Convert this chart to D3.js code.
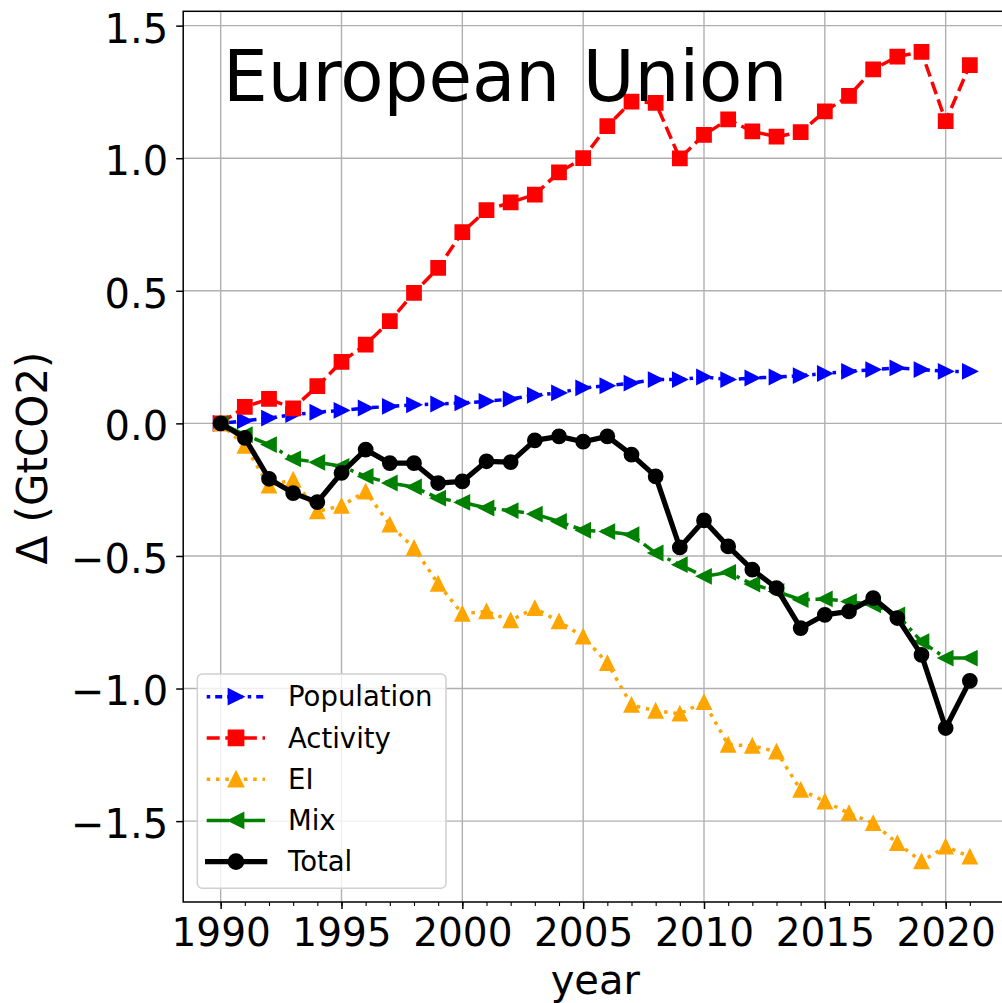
<!DOCTYPE html>
<html><head><meta charset="utf-8">
<script src="https://cdn.jsdelivr.net/npm/d3@7"></script>
<style>body{margin:0;background:#fff}svg{display:block}text{font-family:"DejaVu Sans",sans-serif}</style>
</head><body>
<svg id="chart" width="1002" height="1003"></svg>
<script>
// ---- data ----
const years = [1990,1991,1992,1993,1994,1995,1996,1997,1998,1999,2000,2001,2002,2003,2004,2005,
               2006,2007,2008,2009,2010,2011,2012,2013,2014,2015,2016,2017,2018,2019,2020,2021];
const population = [0.000,0.010,0.020,0.033,0.042,0.049,0.058,0.064,0.070,0.073,0.077,0.083,0.092,0.106,0.115,0.134,
                    0.142,0.152,0.165,0.165,0.175,0.165,0.171,0.175,0.180,0.188,0.196,0.203,0.209,0.203,0.196,0.196];
const activity = [0.000,0.062,0.092,0.057,0.140,0.232,0.297,0.386,0.492,0.586,0.721,0.804,0.833,0.863,0.947,1.000,
                  1.121,1.213,1.209,0.999,1.088,1.146,1.101,1.081,1.098,1.177,1.235,1.335,1.383,1.401,1.140,1.351];
const ei = [0.000,-0.085,-0.235,-0.212,-0.332,-0.311,-0.257,-0.382,-0.470,-0.605,-0.718,-0.709,-0.743,-0.697,-0.747,-0.804,
            -0.904,-1.062,-1.084,-1.095,-1.051,-1.212,-1.216,-1.238,-1.382,-1.426,-1.470,-1.508,-1.583,-1.652,-1.596,-1.634];
const mix = [0.000,-0.043,-0.080,-0.134,-0.147,-0.162,-0.200,-0.225,-0.240,-0.282,-0.298,-0.319,-0.329,-0.342,-0.370,-0.403,
             -0.408,-0.420,-0.489,-0.533,-0.577,-0.562,-0.606,-0.634,-0.665,-0.662,-0.672,-0.684,-0.722,-0.823,-0.885,-0.885];
const total = [0.000,-0.055,-0.209,-0.263,-0.297,-0.187,-0.099,-0.150,-0.150,-0.225,-0.219,-0.143,-0.146,-0.064,-0.049,-0.069,
               -0.049,-0.118,-0.200,-0.468,-0.366,-0.464,-0.552,-0.621,-0.772,-0.722,-0.709,-0.659,-0.734,-0.873,-1.149,-0.971];
const seriesNames = ["Population","Activity","EI","Mix","Total"];
const xTickValues = [1990,1995,2000,2005,2010,2015,2020];
const yTickValues = [-1.5,-1.0,-0.5,0.0,0.5,1.0,1.5];
const titleText = "European Union";
const xLabel = "year";
const yLabel = "\u0394 (GtCO2)";

// ---- styles ----
const styles = {
  Population:{color:"#0000ff", dash:"3.5,5,7,5", marker:"right", lw:3.5},
  Activity:  {color:"#ff0000", dash:"13,5.6", marker:"square", lw:3.5},
  EI:        {color:"#ffa500", dash:"3.5,5.8", marker:"up", lw:3.5},
  Mix:       {color:"#008000", dash:"22.4,5.6,3.5,5.6", marker:"left", lw:3.5},
  Total:     {color:"#000000", dash:null, marker:"circle", lw:5.2}
};
const seriesData = {Population:population, Activity:activity, EI:ei, Mix:mix, Total:total};

const svg = d3.select("#chart");
const L = 183.2, R = 1007.3, T = 11.3, B = 902;
const x = d3.scaleLinear().domain([1988.45, 2022.55]).range([L, R]);
const y = d3.scaleLinear().domain([-1.805, 1.554]).range([B, T]);

// grid
const grid = svg.append("g");
grid.selectAll("line.vx").data(xTickValues).join("line")
  .attr("x1", d=>x(d)).attr("x2", d=>x(d)).attr("y1", T).attr("y2", B)
  .attr("stroke", "#b0b0b0").attr("stroke-width", 1.4);
grid.selectAll("line.hy").data(yTickValues).join("line")
  .attr("x1", L).attr("x2", R).attr("y1", d=>y(d)).attr("y2", d=>y(d))
  .attr("stroke", "#b0b0b0").attr("stroke-width", 1.4);

function markerPath(type, s){
  const h = s/2;
  switch(type){
    case "square": return `M${-h},${-h}H${h}V${h}H${-h}Z`;
    case "up": return `M0,${-h}L${h},${h}L${-h},${h}Z`;
    case "right": return `M${h},0L${-h},${-h}L${-h},${h}Z`;
    case "left": return `M${-h},0L${h},${-h}L${h},${h}Z`;
    case "circle": return `M${h},0A${h},${h} 0 1,1 ${-h},0A${h},${h} 0 1,1 ${h},0Z`;
  }
}
const MS = 14;

// lines
const line = d3.line().x((d,i)=>x(years[i])).y(d=>y(d));
const plot = svg.append("g");
seriesNames.forEach(name=>{
  const st = styles[name], vals = seriesData[name];
  const g = plot.append("g");
  g.append("path").attr("d", line(vals)).attr("fill","none")
    .attr("stroke", st.color).attr("stroke-width", st.lw)
    .attr("stroke-dasharray", st.dash).attr("stroke-linejoin","round");
  g.selectAll("path.m").data(vals).join("path").attr("class","m")
    .attr("transform",(d,i)=>`translate(${x(years[i])},${y(d)})`)
    .attr("d", markerPath(st.marker, MS))
    .attr("fill", st.color).attr("stroke", st.color).attr("stroke-width", 1.75);
});

// axes
const xAxis = svg.append("g").attr("transform",`translate(0,${B})`)
  .call(d3.axisBottom(x).tickValues(xTickValues).tickFormat(d3.format("d")).tickSize(7).tickSizeOuter(0));
xAxis.select(".domain").remove();
xAxis.selectAll("text").attr("y", 44).attr("dy", "0").attr("font-size", 39).attr("fill","#000")
  .attr("font-family","DejaVu Sans");
xAxis.selectAll("line").attr("stroke","#000").attr("stroke-width",1.5);

const xMinor = svg.append("g").attr("transform",`translate(0,${B})`)
  .call(d3.axisBottom(x).tickValues(years).tickFormat("").tickSize(4).tickSizeOuter(0));
xMinor.select(".domain").remove();
xMinor.selectAll("line").attr("stroke","#000").attr("stroke-width",1.1);

const fmtY = d => (d<0 ? "\u2212" : "") + Math.abs(d).toFixed(1);
const yAxis = svg.append("g").attr("transform",`translate(${L},0)`)
  .call(d3.axisLeft(y).tickValues(yTickValues).tickFormat(fmtY).tickSize(7).tickPadding(8).tickSizeOuter(0));
yAxis.select(".domain").remove();
yAxis.selectAll("text").attr("dy","0.41em").attr("font-size", 40).attr("fill","#000")
  .attr("font-family","DejaVu Sans");
yAxis.selectAll("line").attr("stroke","#000").attr("stroke-width",1.5);

// spines
svg.append("rect").attr("x",L).attr("y",T).attr("width",R-L).attr("height",B-T)
  .attr("fill","none").attr("stroke","#000").attr("stroke-width",1.5);

// title
svg.append("text").attr("x",223).attr("y",101).attr("font-size",70.8).attr("fill","#000").text(titleText);

// axis labels
svg.append("text").attr("x",(L+R)/2).attr("y",994).attr("text-anchor","middle")
  .attr("font-size",40).attr("fill","#000").text(xLabel);
svg.append("text").attr("transform",`translate(47,458) rotate(-90)`).attr("text-anchor","middle")
  .attr("font-size",42).attr("fill","#000").text(yLabel);

// legend
const lg = svg.append("g");
lg.append("rect").attr("x",197.3).attr("y",674).attr("width",248.7).attr("height",214.3)
  .attr("rx",5).attr("fill","#fff").attr("fill-opacity",0.8)
  .attr("stroke","#d0d0d0").attr("stroke-width",1.5);
const rowY = d3.scalePoint().domain(seriesNames).range([696.7, 861.7]);
seriesNames.forEach(name=>{
  const st = styles[name], yy = rowY(name);
  const x1 = name==="Total" ? 205 : 206.7, x2 = name==="Total" ? 267.3 : 265;
  lg.append("line").attr("x1",x1).attr("x2",x2).attr("y1",yy).attr("y2",yy)
    .attr("stroke",st.color).attr("stroke-width",st.lw).attr("stroke-dasharray",st.dash);
  lg.append("path").attr("transform",`translate(236,${yy})`).attr("d",markerPath(st.marker,MS+1))
    .attr("fill",st.color).attr("stroke",st.color).attr("stroke-width",1.75);
  lg.append("text").attr("x",288).attr("y",yy).attr("dy","0.35em").attr("font-size",27.5)
    .attr("fill","#000").text(name);
});
</script>
</body></html>
